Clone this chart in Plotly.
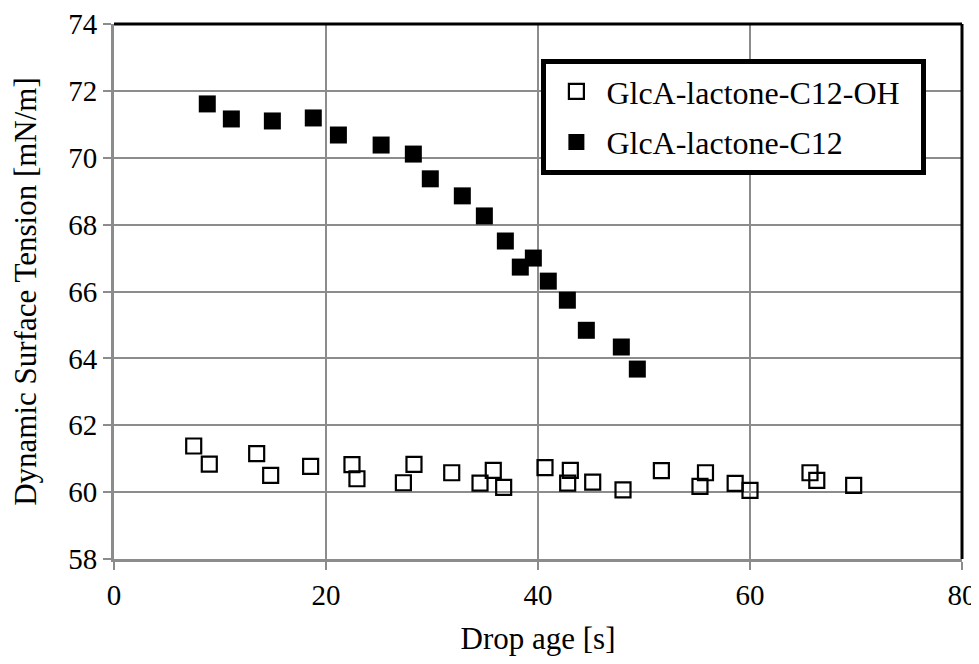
import plotly.graph_objects as go

# drop age [s] and dynamic surface tension [mN/m]
oh_age = [7.52, 8.99, 13.46, 14.78, 18.55, 22.45, 22.92, 27.3, 28.3, 31.86, 34.53, 35.78, 36.76,
          40.66, 42.8, 43.05, 45.16, 48.02, 51.64, 55.28, 55.8, 58.6, 60.0, 65.66, 66.3, 69.78]
oh_tension = [61.38, 60.84, 61.15, 60.50, 60.77, 60.82, 60.40, 60.28, 60.83, 60.58, 60.27, 60.65, 60.14,
              60.73, 60.27, 60.65, 60.30, 60.07, 60.64, 60.17, 60.58, 60.26, 60.05, 60.58, 60.35, 60.20]

c12_age = [8.8, 11.07, 14.94, 18.8, 21.17, 25.2, 28.24, 29.84, 32.86, 34.94, 36.92, 38.33, 39.56,
           40.97, 42.77, 44.56, 47.86, 49.37]
c12_tension = [71.61, 71.16, 71.10, 71.19, 70.68, 70.38, 70.11, 69.37, 68.86, 68.26, 67.51, 66.73, 67.0,
               66.31, 65.74, 64.84, 64.34, 63.68]

x_ticks = [0, 20, 40, 60, 80]
y_ticks = [58, 60, 62, 64, 66, 68, 70, 72, 74]

FONT = "Liberation Serif"
GRID = "#8c8c8c"
PAD = "\u00a0\u00a0"  # a little extra room on the right of the legend box

fig = go.Figure()

fig.add_trace(go.Scatter(
    x=oh_age, y=oh_tension, mode="markers", name="GlcA-lactone-C12-OH" + PAD,
    legendgroup="a",
    marker=dict(symbol="square-open", size=15, color="black", line=dict(width=2.2, color="black")),
    cliponaxis=False,
))
fig.add_trace(go.Scatter(
    x=c12_age, y=c12_tension, mode="markers", name="GlcA-lactone-C12",
    legendgroup="b",
    marker=dict(symbol="square", size=17, color="black"),
    cliponaxis=False,
))

# black frame on top and right side of plot area
fig.add_shape(type="line", xref="paper", yref="paper", x0=0, x1=1, y0=1, y1=1,
              line=dict(color="black", width=3))
fig.add_shape(type="line", xref="paper", yref="paper", x0=1, x1=1, y0=0, y1=1,
              line=dict(color="black", width=3))

# page body adds an 8px margin, so the figure is a bit smaller than the window
fig.update_layout(
    width=971, height=656,
    margin=dict(l=106, r=17, t=16, b=105, autoexpand=False),
    paper_bgcolor="white", plot_bgcolor="white",
    font=dict(family=FONT, color="black", size=30),
    showlegend=True,
    legend=dict(
        x=0.504, y=0.9345, xanchor="left", yanchor="top",
        bgcolor="white", bordercolor="black", borderwidth=5,
        font=dict(family=FONT, size=32, color="black"),
        traceorder="grouped", tracegroupgap=6, itemwidth=50,
    ),
    xaxis=dict(
        range=[0, 80], tickvals=x_ticks, showgrid=True, gridcolor=GRID, gridwidth=2,
        showline=True, linecolor=GRID, linewidth=3, ticks="outside", ticklen=8,
        tickcolor=GRID, tickwidth=2, zeroline=False, automargin=False,
        ticklabeloverflow="allow",
        title=dict(text="Drop age [s]", font=dict(family=FONT, size=31), standoff=18),
        tickfont=dict(family=FONT, size=29),
    ),
    yaxis=dict(
        range=[58, 74], tickvals=y_ticks, showgrid=True, gridcolor=GRID, gridwidth=2,
        showline=True, linecolor=GRID, linewidth=3, ticks="outside", ticklen=8,
        tickcolor=GRID, tickwidth=2, zeroline=False, automargin=False,
        ticklabeloverflow="allow",
        title=dict(text="Dynamic Surface Tension [mN/m]", font=dict(family=FONT, size=31), standoff=30),
        tickfont=dict(family=FONT, size=29),
    ),
)

fig.write_html("out.html")
